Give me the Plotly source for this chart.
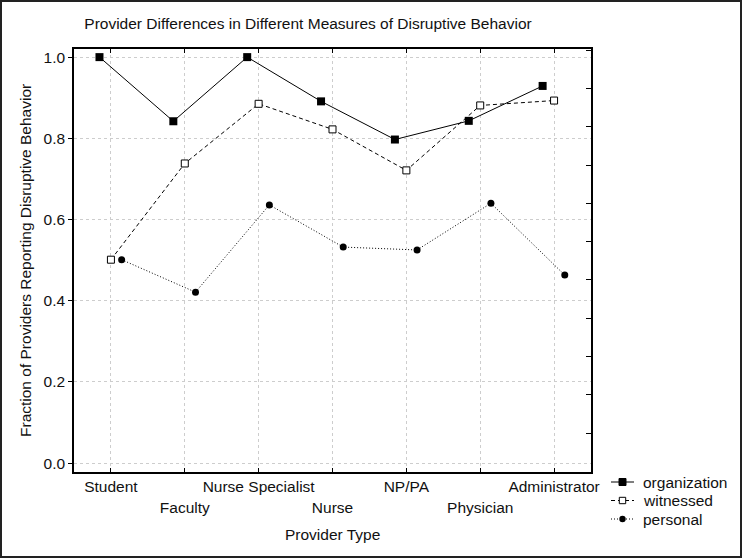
import plotly.graph_objects as go

categories = ["Student", "Faculty", "Nurse Specialist", "Nurse", "NP/PA", "Physician", "Administrator"]
organization = [1.0, 0.842, 1.0, 0.891, 0.797, 0.843, 0.929]
witnessed = [0.501, 0.738, 0.885, 0.822, 0.721, 0.881, 0.893]
personal = [0.501, 0.421, 0.636, 0.532, 0.525, 0.640, 0.463]
series_names = ["organization", "witnessed", "personal"]
y_ticks = [0.0, 0.2, 0.4, 0.6, 0.8, 1.0]
y_ticklabels = ["0.0", "0.2", "0.4", "0.6", "0.8", "1.0"]

FONT = "Arial, 'Liberation Sans', sans-serif"
W, H = 742, 558
ML, MR, MT, MB = 74, 151, 49, 86
PW, PH = W - ML - MR, H - MT - MB
FS = 15.5


def px(x):
    return (x - ML) / PW


def py(y):
    return 1 - (y - MT) / PH


idx = list(range(len(categories)))
# staggered tick labels: odd categories on a second row
ticktext = [c if i % 2 == 0 else "<br>" + c for i, c in enumerate(categories)]

offsets = [-0.155, 0.0, 0.145]
styles = [
    dict(dash="solid", symbol="square", size=8, fill="black"),
    dict(dash="4px,3px", symbol="square", size=7, fill="white"),
    dict(dash="1px,2px", symbol="circle", size=7, fill="black"),
]
values = [organization, witnessed, personal]

fig = go.Figure()
for name, vals, off, st in zip(series_names, values, offsets, styles):
    fig.add_trace(go.Scatter(
        x=[i + off for i in idx], y=vals, name=name, showlegend=False,
        mode="lines+markers", line=dict(color="black", width=1, dash=st["dash"]),
        marker=dict(symbol=st["symbol"], size=st["size"], color=st["fill"],
                    line=dict(color="black", width=1 if st["fill"] == "white" else 0))))
# invisible helper trace so the right-hand tick axis is drawn
fig.add_trace(go.Scatter(x=[None], y=[None], yaxis="y2", showlegend=False, hoverinfo="skip"))

# custom legend (shapes + text)
shapes = [dict(type="rect", xref="paper", yref="paper",
               x0=px(1), x1=px(W - 1), y0=py(H - 1), y1=py(1),
               line=dict(color="#222222", width=2), layer="above")]
annotations = [
    dict(text="Provider Type", xref="paper", yref="paper",
         x=px(332), y=py(534), xanchor="center", yanchor="middle",
         showarrow=False, font=dict(size=FS)),
    dict(text="Fraction of Providers Reporting Disruptive Behavior", xref="paper", yref="paper",
         x=px(25), y=py(261), xanchor="center", yanchor="middle",
         textangle=-90, showarrow=False, font=dict(size=FS)),
]
leg_rows = [482, 500.5, 519]
for name, st, ry in zip(series_names, styles, leg_rows):
    shapes.append(dict(type="line", xref="paper", yref="paper",
                       x0=px(611), x1=px(634), y0=py(ry), y1=py(ry),
                       line=dict(color="black", width=1, dash=st["dash"])))
    cx = 622.5
    if st["symbol"] == "square":
        h = 3.5 if st["fill"] == "black" else 3.2
        shapes.append(dict(type="rect", xref="paper", yref="paper",
                           x0=px(cx - h), x1=px(cx + h), y0=py(ry + h), y1=py(ry - h),
                           fillcolor=st["fill"], line=dict(color="black", width=1)))
    else:
        h = 3.2
        shapes.append(dict(type="circle", xref="paper", yref="paper",
                           x0=px(cx - h), x1=px(cx + h), y0=py(ry + h), y1=py(ry - h),
                           fillcolor="black", line=dict(color="black", width=0)))
    annotations.append(dict(text=name, xref="paper", yref="paper",
                            x=px(641), y=py(ry), xanchor="left", yanchor="middle",
                            showarrow=False, font=dict(size=FS)))

yr = [-0.022, 1.02]
GRID = "#cdcdcd"
fig.update_layout(
    width=W, height=H,
    margin=dict(l=ML, r=MR, t=MT, b=MB, autoexpand=False),
    paper_bgcolor="white", plot_bgcolor="white",
    font=dict(family=FONT, size=FS, color="#111111"),
    title=dict(text="Provider Differences in Different Measures of Disruptive Behavior",
               x=308 / W, xanchor="center", y=1 - 24 / H, yanchor="middle",
               font=dict(size=FS, family=FONT, color="#111111")),
    xaxis=dict(range=[-0.5, 6.5], tickvals=idx, ticktext=ticktext, tickangle=0,
               ticks="inside", ticklen=4, tickcolor="black", mirror="ticks",
               showline=True, linecolor="black", linewidth=1.5,
               showgrid=True, gridcolor=GRID, griddash="dot", gridwidth=1,
               zeroline=False, tickfont=dict(size=FS), automargin=False),
    yaxis=dict(range=yr, tickvals=y_ticks, ticktext=y_ticklabels,
               ticks="outside", ticklen=4, tickcolor="black", mirror=True,
               showline=True, linecolor="black", linewidth=1.5,
               showgrid=True, gridcolor=GRID, griddash="dot", gridwidth=1,
               zeroline=False, tickfont=dict(size=FS), automargin=False),
    yaxis2=dict(range=yr, overlaying="y", side="right", tick0=0.0739, dtick=0.0943,
                ticks="inside", ticklen=5, tickcolor="black", showticklabels=False,
                showgrid=False, zeroline=False, showline=False, automargin=False),
    showlegend=False,
    annotations=annotations,
    shapes=shapes,
)

fig.write_html("out.html", config={"displayModeBar": False},
               post_script="document.body.style.margin='0px';document.body.style.overflow='hidden';")
